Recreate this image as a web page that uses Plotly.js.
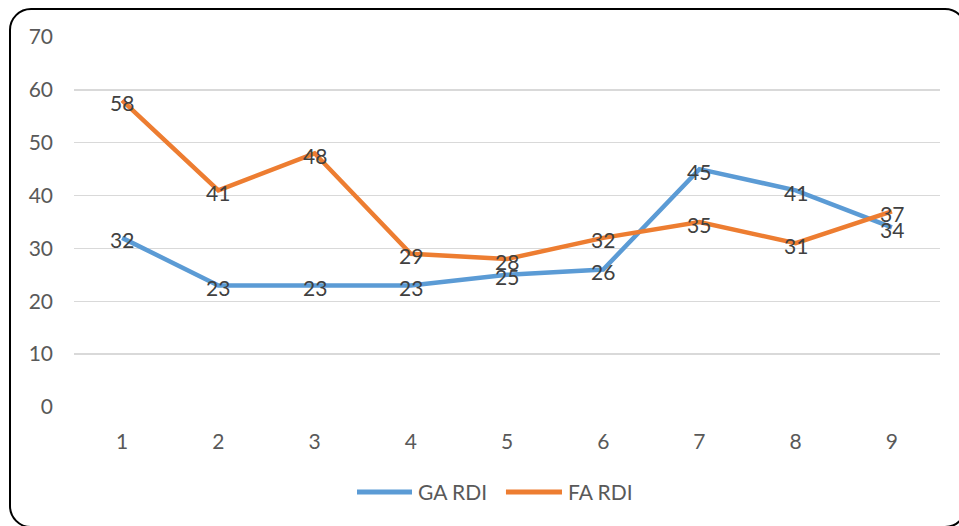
<!DOCTYPE html>
<html>
<head>
<meta charset="utf-8">
<script src="https://cdn.plot.ly/plotly-3.0.1.min.js"></script>
<style>
  html, body { margin: 0; padding: 0; background: #fff; overflow: hidden; }
  #wrap { position: relative; width: 959px; height: 526px; overflow: hidden; }
  #chart { position: absolute; left: 0; top: 0; width: 959px; height: 526px; }
  #frame { position: absolute; left: 9px; top: 8px; width: 958px; height: 520px;
           border: 2px solid #000; border-radius: 22px; pointer-events: none; box-sizing: border-box; }
</style>
</head>
<body>
<div id="wrap">
  <div id="chart"></div>
  <div id="frame"></div>
</div>
<script>
const categories = [1, 2, 3, 4, 5, 6, 7, 8, 9];
const gaRdi = [32, 23, 23, 23, 25, 26, 45, 41, 34];
const faRdi = [58, 41, 48, 29, 28, 32, 35, 31, 37];
const seriesNames = ['GA RDI', 'FA RDI'];
const yTicks = [0, 10, 20, 30, 40, 50, 60, 70];

const blue = '#5B9BD5';
const orange = '#ED7D31';
const font = 'Lato, "Open Sans", sans-serif';
const fsize = 21;

const lineTrace = (y, name, color) => ({
  x: categories, y: y, name: name, type: 'scatter', mode: 'lines',
  line: { color: color, width: 4.5 }, hoverinfo: 'skip', showlegend: false
});

const data = [
  lineTrace(gaRdi, seriesNames[0], blue),
  lineTrace(faRdi, seriesNames[1], orange)
];

const labelAnns = (y) => categories.map((c, i) => ({
  x: c, y: y[i], xref: 'x', yref: 'y', text: String(y[i]), showarrow: false,
  xanchor: 'center', yanchor: 'middle', yshift: -2,
  font: { family: font, size: fsize, color: '#404040' }
}));

// legend (drawn manually to match the long line keys)
const legendY = -0.2297;
const legendItems = [
  { name: seriesNames[0], color: blue, x0: 0.3268, x1: 0.3903, tx: 0.3949 },
  { name: seriesNames[1], color: orange, x0: 0.4988, x1: 0.5635, tx: 0.5681 }
];
const legendShapes = legendItems.map(it => ({
  type: 'line', xref: 'paper', yref: 'paper', x0: it.x0, x1: it.x1, y0: legendY, y1: legendY,
  line: { color: it.color, width: 5 }
}));
const legendAnns = legendItems.map(it => ({
  xref: 'paper', yref: 'paper', x: it.tx, y: legendY, text: it.name, showarrow: false,
  xanchor: 'left', yanchor: 'middle', font: { family: font, size: fsize, color: '#595959' }
}));

const layout = {
  width: 959, height: 526,
  margin: { l: 74, r: 19, t: 37, b: 119 },
  paper_bgcolor: '#ffffff', plot_bgcolor: '#ffffff',
  font: { family: font, size: fsize, color: '#595959' },
  xaxis: {
    range: [0.5, 9.5], tickvals: categories, ticktext: categories.map(String),
    showgrid: false, zeroline: false, showline: false, ticks: '',
    ticklabelstandoff: 20, tickfont: { size: fsize, color: '#595959' }
  },
  yaxis: {
    range: [0, 70], tickvals: yTicks, showgrid: true, gridcolor: '#d9d9d9', gridwidth: 1.3,
    zeroline: false, showline: false, ticks: '', ticklabelstandoff: 20,
    tickfont: { size: fsize, color: '#595959' }
  },
  showlegend: false,
  shapes: legendShapes,
  annotations: labelAnns(gaRdi).concat(labelAnns(faRdi), legendAnns)
};

Plotly.newPlot('chart', data, layout, { displayModeBar: false, staticPlot: true });
</script>
</body>
</html>
